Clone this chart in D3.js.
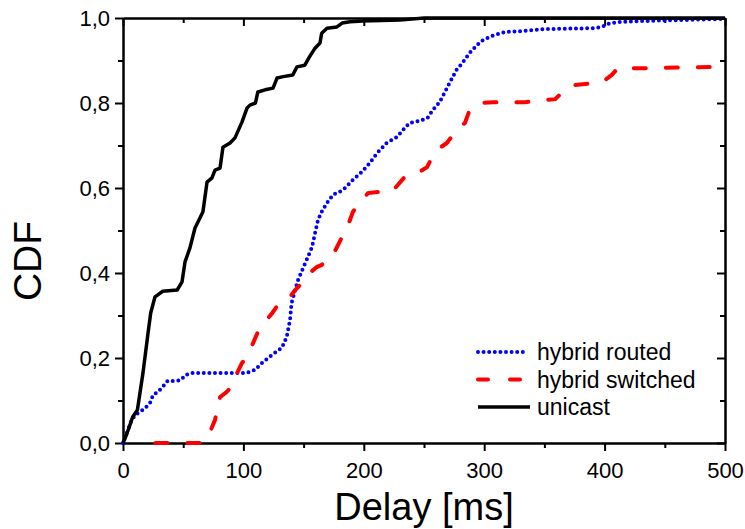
<!DOCTYPE html>
<html>
  <head>
    <meta charset="utf-8">
    <script src="https://d3js.org/d3.v7.min.js"></script>
    <style type="text/css">
      body { margin: 0; background: #fff; }
      #chart text { font-family: "Liberation Sans", Arial, sans-serif; fill: #000; }
      .axis path, .axis line { stroke: #000; stroke-width: 2; }
      .axis text { font-size: 22px; }
    </style>
  </head>
  <body>
    <svg id="chart"></svg>
    <script>
      // delay [ms] / CDF
      var unicastDelay = [0, 3, 8, 12, 16.6, 20.8, 23, 26.6, 33, 45, 49, 51.5, 55.6, 59.8, 64, 66.4, 69.8, 73.9, 76.4, 80.6, 83, 88.9, 93, 98.8, 103, 105.5, 110, 112, 118, 124.6, 128, 133, 141, 144.5, 151, 155, 159.5, 163.6, 165, 169.4, 177.7, 182, 188.5, 199, 230, 250, 500];
      var unicastCdf = [0, 0.02, 0.061, 0.078, 0.165, 0.259, 0.306, 0.344, 0.357, 0.36, 0.379, 0.426, 0.459, 0.506, 0.53, 0.544, 0.614, 0.624, 0.642, 0.647, 0.696, 0.706, 0.718, 0.755, 0.788, 0.795, 0.8, 0.826, 0.831, 0.835, 0.859, 0.862, 0.866, 0.885, 0.889, 0.909, 0.929, 0.941, 0.964, 0.976, 0.979, 0.988, 0.991, 0.993, 0.995, 1.0, 1.0];

      var routedDelay = [0, 4.2, 6.6, 10, 14, 18.3, 22.4, 25, 29, 33, 37, 43, 48, 52, 58, 103, 109.6, 116, 124.6, 132, 136, 138.7, 140, 143, 145.3, 149.5, 153.6, 157, 159.5, 162, 165, 169.4, 174.4, 182.7, 191, 198.5, 205, 211, 219, 227.6, 234, 238, 246.7, 253, 257.5, 263, 267.4, 271.6, 277, 282.4, 288, 294, 299, 306.5, 317, 331, 350.5, 392, 397.8, 404.5, 414, 433.6, 461, 500];
      var routedCdf = [0, 0.031, 0.05, 0.066, 0.073, 0.082, 0.094, 0.113, 0.12, 0.132, 0.146, 0.146, 0.148, 0.16, 0.165, 0.165, 0.172, 0.19, 0.209, 0.224, 0.25, 0.289, 0.329, 0.36, 0.383, 0.411, 0.438, 0.461, 0.494, 0.525, 0.544, 0.565, 0.584, 0.595, 0.619, 0.638, 0.659, 0.682, 0.706, 0.72, 0.741, 0.753, 0.758, 0.765, 0.784, 0.802, 0.826, 0.849, 0.878, 0.896, 0.918, 0.936, 0.948, 0.958, 0.967, 0.969, 0.974, 0.976, 0.979, 0.988, 0.991, 0.993, 0.995, 0.998];

      var switchedDelay = [27, 52, 66, 72, 76.4, 80.6, 86, 91, 93, 98.8, 102, 105.5, 108, 112, 116, 124, 128.7, 138.7, 143, 151, 155, 161, 165, 173.6, 177.7, 182.7, 187, 191, 197, 203.5, 213.5, 223, 226, 234, 242.5, 252.5, 256.6, 263, 269, 277, 284, 288, 296.5, 307, 334, 359, 367, 375.4, 398, 406, 411, 433.6, 497];
      var switchedCdf = [0, 0, 0, 0.024, 0.054, 0.108, 0.12, 0.135, 0.155, 0.188, 0.2, 0.219, 0.235, 0.261, 0.278, 0.306, 0.325, 0.344, 0.36, 0.383, 0.4, 0.414, 0.419, 0.438, 0.461, 0.489, 0.513, 0.544, 0.567, 0.588, 0.591, 0.591, 0.6, 0.626, 0.631, 0.649, 0.671, 0.694, 0.706, 0.736, 0.753, 0.784, 0.8, 0.802, 0.802, 0.809, 0.831, 0.842, 0.849, 0.866, 0.882, 0.882, 0.885];

      var xTicks = [0, 100, 200, 300, 400, 500];
      var yTicks = [0, 0.2, 0.4, 0.6, 0.8, 1.0];
      var seriesNames = ["hybrid routed", "hybrid switched", "unicast"];

      var width = 745, height = 529;
      var plotLeft = 123, plotRight = 725, plotTop = 18, plotBottom = 443;

      var x = d3.scaleLinear().domain([0, 500]).range([plotLeft, plotRight]);
      var y = d3.scaleLinear().domain([0, 1]).range([plotBottom, plotTop]);

      var svg = d3.select("#chart")
          .attr("width", width)
          .attr("height", height);

      var fmtY = function(d) { return d3.format(".1f")(d).replace(".", ","); };
      var minorX = d3.range(50, 500, 100);
      var minorY = [0.1, 0.3, 0.5, 0.7, 0.9];

      // major ticks with labels
      svg.append("g").attr("class", "axis")
          .attr("transform", "translate(0," + plotBottom + ")")
          .call(d3.axisBottom(x).tickValues(xTicks).tickSize(8).tickSizeOuter(0).tickPadding(11));
      svg.append("g").attr("class", "axis")
          .attr("transform", "translate(" + plotLeft + ",0)")
          .call(d3.axisLeft(y).tickValues(yTicks).tickFormat(fmtY).tickSize(8).tickSizeOuter(0).tickPadding(5));
      svg.append("g").attr("class", "axis")
          .attr("transform", "translate(0," + plotTop + ")")
          .call(d3.axisTop(x).tickValues(xTicks).tickSize(-8).tickSizeOuter(0).tickFormat(""));
      svg.append("g").attr("class", "axis")
          .attr("transform", "translate(" + plotRight + ",0)")
          .call(d3.axisRight(y).tickValues(yTicks).tickSize(-8).tickSizeOuter(0).tickFormat(""));

      // minor ticks
      svg.append("g").attr("class", "axis")
          .attr("transform", "translate(0," + plotBottom + ")")
          .call(d3.axisBottom(x).tickValues(minorX).tickSize(5).tickSizeOuter(0).tickFormat(""));
      svg.append("g").attr("class", "axis")
          .attr("transform", "translate(" + plotLeft + ",0)")
          .call(d3.axisLeft(y).tickValues(minorY).tickSize(5).tickSizeOuter(0).tickFormat(""));
      svg.append("g").attr("class", "axis")
          .attr("transform", "translate(0," + plotTop + ")")
          .call(d3.axisTop(x).tickValues(minorX).tickSize(-5).tickSizeOuter(0).tickFormat(""));
      svg.append("g").attr("class", "axis")
          .attr("transform", "translate(" + plotRight + ",0)")
          .call(d3.axisRight(y).tickValues(minorY).tickSize(-5).tickSizeOuter(0).tickFormat(""));

      var line = d3.line()
          .x(function(d) { return x(d[0]); })
          .y(function(d) { return y(d[1]); });

      svg.append("path")
          .datum(d3.zip(routedDelay, routedCdf))
          .attr("d", line)
          .attr("fill", "none")
          .attr("stroke", "#0000ff")
          .attr("stroke-width", 4)
          .attr("stroke-linecap", "round")
          .attr("stroke-dasharray", "0,5.6");

      svg.append("path")
          .datum(d3.zip(switchedDelay, switchedCdf))
          .attr("d", line)
          .attr("fill", "none")
          .attr("stroke", "#ff0000")
          .attr("stroke-width", 4)
          .attr("stroke-linecap", "round")
          .attr("stroke-dasharray", "12,20");

      svg.append("path")
          .datum(d3.zip(unicastDelay, unicastCdf))
          .attr("d", line)
          .attr("fill", "none")
          .attr("stroke", "#000")
          .attr("stroke-width", 3.5)
          .attr("stroke-linejoin", "round");

      // legend
      var legendStyle = [
        { color: "#0000ff", width: 4, dash: "0,5.6", cap: "round" },
        { color: "#ff0000", width: 4, dash: "10,22", cap: "round" },
        { color: "#000", width: 3.5, dash: null, cap: "butt" }
      ];
      var legend = svg.append("g");
      seriesNames.forEach(function(name, i) {
        var ly = 352 + i * 27.5;
        var s = legendStyle[i];
        legend.append("line")
            .attr("x1", 478).attr("x2", i === 2 ? 530 : 527)
            .attr("y1", ly).attr("y2", ly)
            .attr("stroke", s.color)
            .attr("stroke-width", s.width)
            .attr("stroke-linecap", s.cap)
            .attr("stroke-dasharray", s.dash);
        legend.append("text")
            .attr("x", 537).attr("y", ly)
            .attr("dy", "0.35em")
            .style("font-size", "23px")
            .text(name);
      });

      // axis titles
      svg.append("text")
          .attr("x", (plotLeft + plotRight) / 2).attr("y", 520)
          .attr("text-anchor", "middle")
          .style("font-size", "38px")
          .text("Delay [ms]");
      svg.append("text")
          .attr("transform", "translate(41,261) rotate(-90)")
          .attr("text-anchor", "middle")
          .style("font-size", "39px")
          .text("CDF");
    </script>
  </body>
</html>
